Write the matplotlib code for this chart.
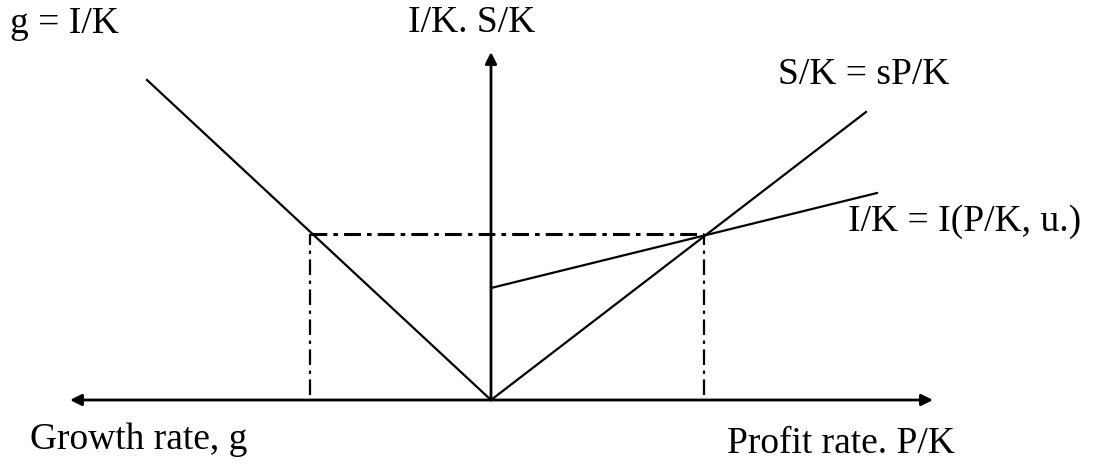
import numpy as np
import matplotlib
matplotlib.use('Agg')
import matplotlib.pyplot as plt

# ---------------------------------------------------------------- data (origin at the crossing of the axes)
growth_x = [-344, 0]          # g = I/K, left quadrant
growth_y = [320, 0]
saving_x = [0, 375]           # S/K = sP/K
saving_y = [0, 288]
invest_x = [0, 386]           # I/K = I(P/K, u.)
invest_y = [112, 207]
equil_g = -181                # growth rate at equilibrium
equil_r = 213                 # profit rate at equilibrium
equil_level = 166             # I/K = S/K at equilibrium
h_axis = [-421, 442]
v_axis_top = 348

labels = {
    'vert': 'I/K. S/K',
    'growth_line': 'g = I/K',
    'saving_line': 'S/K = sP/K',
    'invest_line': 'I/K = I(P/K, u.)',
    'h_left': 'Growth rate, g',
    'h_right': 'Profit rate. P/K',
}

plt.rcParams['font.family'] = ['Liberation Serif', 'DejaVu Serif']

fig = plt.figure(figsize=(10.95, 4.66), dpi=100)
ax = fig.add_axes([0, 0, 1, 1])
ax.set_xlim(-491, 604)
ax.set_ylim(-66, 400)
ax.axis('off')

# axes with arrow heads
ax.annotate('', xy=(h_axis[0], 0), xytext=(h_axis[1], 0),
            arrowprops=dict(arrowstyle='<|-|>', color='black', lw=2, mutation_scale=17, shrinkA=0, shrinkB=0))
ax.annotate('', xy=(0, v_axis_top), xytext=(0, 0),
            arrowprops=dict(arrowstyle='-|>', color='black', lw=2, mutation_scale=17, shrinkA=0, shrinkB=0))

# curves
ax.plot(growth_x, growth_y, color='black', lw=1.6)
ax.plot(saving_x, saving_y, color='black', lw=1.6)
ax.plot(invest_x, invest_y, color='black', lw=1.6)

# equilibrium guides
dashdot = (0, (5.5, 2, 1.5, 2))
ax.plot([equil_g, equil_r], [equil_level, equil_level], color='black', lw=2.2, linestyle=dashdot)
ax.plot([equil_g, equil_g], [5, equil_level], color='black', lw=1.6, linestyle=(0, (7, 2.5, 1.5, 2.5)))
ax.plot([equil_r, equil_r], [5, equil_level], color='black', lw=1.6, linestyle=(0, (7, 2.5, 1.5, 2.5)))

fs = 27
ax.text(-19, 377, labels['vert'], fontsize=fs, ha='center', va='center')
ax.text(-481, 376, labels['growth_line'], fontsize=fs, ha='left', va='center')
ax.text(287, 325, labels['saving_line'], fontsize=fs, ha='left', va='center')
ax.text(357, 178, labels['invest_line'], fontsize=fs, ha='left', va='center')
ax.text(-461, -40, labels['h_left'], fontsize=fs, ha='left', va='center')
ax.text(236, -44, labels['h_right'], fontsize=fs, ha='left', va='center')

fig.savefig('out.png', dpi=100)
